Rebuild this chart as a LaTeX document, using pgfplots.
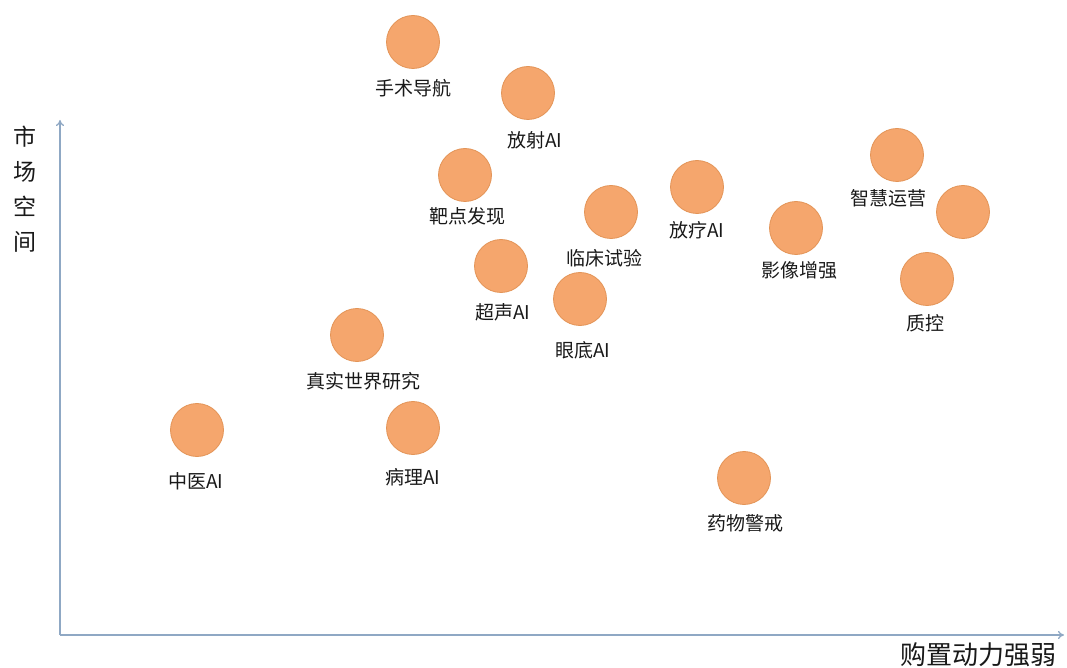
\documentclass[border=0pt]{standalone}
\usepackage{pgfplots}
\pgfplotsset{compat=1.18}
\usetikzlibrary{arrows.meta}
\usepackage{fontspec}
\setmainfont{Noto Sans CJK SC}
\definecolor{bub}{HTML}{F5A66D}
\definecolor{bubedge}{HTML}{E39457}
\definecolor{axc}{HTML}{8FA8C4}
\begin{document}
\begin{tikzpicture}[x=1bp,y=1bp]
\begin{axis}[
  x=1bp, y=1bp,
  xmin=60, xmax=1064, ymin=31, ymax=546,
  axis lines=left,
  axis line style={draw=axc, line width=1.3bp, -{To[length=6bp,width=8bp]}},
  xtick=\empty, ytick=\empty,
  clip=false,
  anchor=origin, at={(0,0)},
]
\path (axis cs:0,0) rectangle (axis cs:1067,666);
\addplot[only marks, mark=*, mark size=26.5bp,
  mark options={fill=bub, draw=bubedge, line width=0.8bp}]
coordinates {
(413,624) (528,573) (465,491) (611,454) (697,479) (796,438)
(897,511) (963,454) (927,387) (501,400) (580,367) (357,331)
(197,236) (413,238) (744,188)
};
\begin{scope}[every node/.style={font=\fontsize{19bp}{20bp}\selectfont, text=black!90, inner sep=0pt}]
\node at (axis cs:413,578) {手术导航};
\node at (axis cs:535,526) {放射AI};
\node at (axis cs:467,450) {靶点发现};
\node at (axis cs:604,408) {临床试验};
\node at (axis cs:697,436) {放疗AI};
\node at (axis cs:799,396) {影像增强};
\node at (axis cs:888,468) {智慧运营};
\node at (axis cs:925,343) {质控};
\node at (axis cs:503,354) {超声AI};
\node at (axis cs:583,316) {眼底AI};
\node at (axis cs:363,285) {真实世界研究};
\node at (axis cs:196,185) {中医AI};
\node at (axis cs:413,189) {病理AI};
\node at (axis cs:745,143) {药物警戒};
\end{scope}
\node[font=\fontsize{23bp}{35bp}\selectfont, text=black!90, align=center, inner sep=0pt] at (axis cs:25,477) {市\\场\\空\\间};
\node[font=\fontsize{26bp}{28bp}\selectfont, text=black!90, inner sep=0pt] at (axis cs:978,11) {购置动力强弱};
\end{axis}
\end{tikzpicture}
\end{document}
